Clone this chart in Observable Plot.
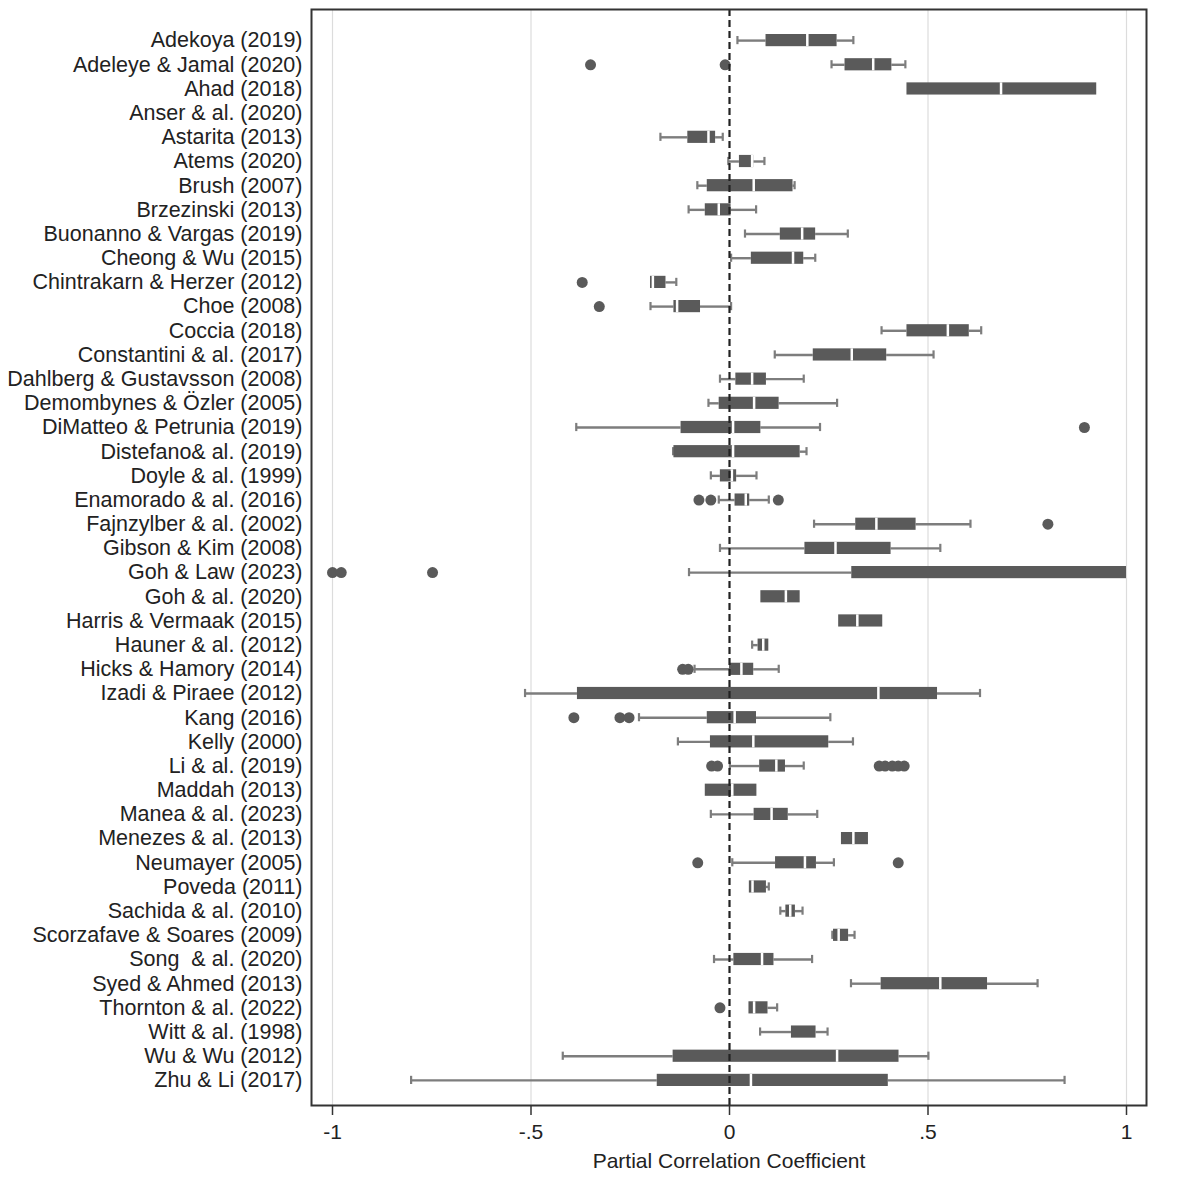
<!DOCTYPE html>
<html><head><meta charset="utf-8">
<script src="https://cdn.jsdelivr.net/npm/d3@7"></script>
<script src="https://cdn.jsdelivr.net/npm/@observablehq/plot@0.6"></script>
<style>body{margin:0;background:#fff;} #chart svg{display:block;}</style>
</head><body><div id="chart"></div>
<script>
const studies = [
  "Adekoya (2019)","Adeleye & Jamal (2020)","Ahad (2018)","Anser & al. (2020)","Astarita (2013)",
  "Atems (2020)","Brush (2007)","Brzezinski (2013)","Buonanno & Vargas (2019)","Cheong & Wu (2015)",
  "Chintrakarn & Herzer (2012)","Choe (2008)","Coccia (2018)","Constantini & al. (2017)","Dahlberg & Gustavsson (2008)",
  "Demombynes & Özler (2005)","DiMatteo & Petrunia (2019)","Distefano& al. (2019)","Doyle & al. (1999)","Enamorado & al. (2016)",
  "Fajnzylber & al. (2002)","Gibson & Kim (2008)","Goh & Law (2023)","Goh & al. (2020)","Harris & Vermaak (2015)",
  "Hauner & al. (2012)","Hicks & Hamory (2014)","Izadi & Piraee (2012)","Kang (2016)","Kelly (2000)",
  "Li & al. (2019)","Maddah (2013)","Manea & al. (2023)","Menezes & al. (2013)","Neumayer (2005)",
  "Poveda (2011)","Sachida & al. (2010)","Scorzafave & Soares (2009)","Song\u00a0 & al. (2020)","Syed & Ahmed (2013)",
  "Thornton & al. (2022)","Witt & al. (1998)","Wu & Wu (2012)","Zhu & Li (2017)"
];
// lower adjacent value (whisker end)
const lo = [0.02,0.257,0.447,null,-0.174, -0.003,-0.081,-0.103,0.039,0.004, -0.199,-0.199,0.383,0.114,-0.024,
  -0.053,-0.386,-0.142,-0.047,-0.027, 0.213,-0.024,-0.102,0.079,0.275, 0.057,-0.088,-0.515,-0.228,-0.13,
  0.001,-0.061,-0.047,0.282,0.007, 0.053,0.128,0.259,-0.039,0.306, 0.049,0.077,-0.42,-0.802];
// first quartile
const q1 = [0.092,0.291,0.447,null,-0.105, 0.025,-0.056,-0.061,0.128,0.055, -0.199,-0.14,0.447,0.211,0.016,
  -0.026,-0.122,-0.14,-0.023,0.014, 0.318,0.19,0.308,0.079,0.275, 0.072,0.0,-0.383,-0.056,-0.048,
  0.076,-0.061,0.062,0.282,0.116, 0.05,0.142,0.262,0.011,0.382, 0.049,0.156,-0.142,-0.182];
// median
const median = [0.196,0.362,0.684,null,-0.053, 0.057,0.061,-0.027,0.183,0.16, -0.193,-0.132,0.55,0.308,0.057,
  0.062,0.009,0.009,0.006,0.041, 0.37,0.267,1.0,0.142,0.322, 0.085,0.03,0.375,0.013,0.06,
  0.118,0.007,0.106,0.312,0.19, 0.058,0.153,0.275,0.082,0.531, 0.062,0.218,0.271,0.054];
// third quartile
const q3 = [0.271,0.409,0.925,null,-0.035, 0.061,0.16,0.004,0.217,0.187, -0.16,-0.073,0.604,0.396,0.093,
  0.125,0.079,0.178,0.018,0.051, 0.47,0.407,1.0,0.178,0.386, 0.099,0.061,0.524,0.068,0.25,
  0.141,0.069,0.148,0.35,0.219, 0.093,0.166,0.3,0.112,0.65, 0.097,0.218,0.427,0.4];
// upper adjacent value (whisker end)
const hi = [0.312,0.443,0.925,null,-0.017, 0.088,0.164,0.067,0.298,0.216, -0.134,0.004,0.634,0.514,0.187,
  0.271,0.228,0.194,0.068,0.099, 0.607,0.531,1.0,0.178,0.386, 0.099,0.124,0.631,0.254,0.311,
  0.187,0.069,0.221,0.35,0.263, 0.099,0.184,0.315,0.208,0.776, 0.12,0.247,0.501,0.844];
// outside values
const outlierStudy = [
  "Adeleye & Jamal (2020)","Adeleye & Jamal (2020)","Chintrakarn & Herzer (2012)","Choe (2008)",
  "DiMatteo & Petrunia (2019)","Enamorado & al. (2016)","Enamorado & al. (2016)","Enamorado & al. (2016)",
  "Fajnzylber & al. (2002)","Goh & Law (2023)","Goh & Law (2023)","Goh & Law (2023)",
  "Hicks & Hamory (2014)","Hicks & Hamory (2014)","Kang (2016)","Kang (2016)","Kang (2016)",
  "Li & al. (2019)","Li & al. (2019)","Li & al. (2019)","Li & al. (2019)","Li & al. (2019)","Li & al. (2019)","Li & al. (2019)",
  "Neumayer (2005)","Neumayer (2005)","Thornton & al. (2022)"
];
const outlierValue = [
  -0.35,-0.011,-0.371,-0.328,
  0.894,-0.077,-0.047,0.123,
  0.802,-1.0,-0.978,-0.748,
  -0.118,-0.104,-0.392,-0.276,-0.253,
  -0.045,-0.03,0.377,0.392,0.41,0.425,0.44,
  -0.08,0.425,-0.024
];
const xTicks = [-1,-0.5,0,0.5,1];
const xTickLabels = ["-1","-.5","0",".5","1"];
const xTitle = "Partial Correlation Coefficient";

const rows = studies.map((s,i)=>({study:s, lo:lo[i], q1:q1[i], med:median[i], q3:q3[i], hi:hi[i]}));
const boxes = rows.filter(d=>d.q1!=null);
const outliers = outlierStudy.map((s,i)=>({study:s, value:outlierValue[i]}));
const gridVals = xTicks.filter(v=>v!==0);

const boxFill = "#5a5a5a";
const whisk = "#7d7d7d";

const chart = Plot.plot({
  width: 1198, height: 1178,
  marginLeft: 311, marginRight: 52, marginTop: 9, marginBottom: 73,
  insetLeft: 21, insetRight: 20, insetTop: 19, insetBottom: 13,
  style: {fontFamily: "'Liberation Sans', Arial, sans-serif", color: "#222", background: "#fff"},
  x: {domain: [-1, 1]},
  y: {domain: studies, padding: 0, round: false},
  marks: [
    Plot.ruleX(gridVals, {stroke: "#dcdcdc", strokeWidth: 1.2}),
    Plot.ruleY(boxes.filter(d=>d.lo<d.q1), {y:"study", x1:"lo", x2:"q1", stroke: whisk, strokeWidth: 2.4}),
    Plot.ruleY(boxes.filter(d=>d.hi>d.q3), {y:"study", x1:"q3", x2:"hi", stroke: whisk, strokeWidth: 2.4}),
    Plot.tickX(boxes.filter(d=>d.lo<d.q1), {y:"study", x:"lo", stroke: whisk, strokeWidth: 2.2, insetTop: 8, insetBottom: 8}),
    Plot.tickX(boxes.filter(d=>d.hi>d.q3), {y:"study", x:"hi", stroke: whisk, strokeWidth: 2.2, insetTop: 8, insetBottom: 8}),
    Plot.barX(boxes, {y:"study", x1:"q1", x2:"q3", fill: boxFill, insetTop: 6, insetBottom: 6}),
    Plot.tickX(boxes.filter(d=>d.med>d.q1 && d.med<d.q3), {y:"study", x:"med", stroke: "#fff", strokeWidth: 2.5, insetTop: 6, insetBottom: 6}),
    Plot.dot(outliers, {y:"study", x:"value", r: 5.5, fill: boxFill, stroke: "none"}),
    Plot.ruleX([0], {stroke: "#222", strokeWidth: 2.2, strokeDasharray: "7,4"}),
    Plot.frame({stroke: "#333", strokeWidth: 2}),
    Plot.axisY({tickSize: 0, tickPadding: 9, fontSize: 21.5, label: null, color: "#222"}),
    Plot.axisX({ticks: xTicks, tickFormat: d => xTickLabels[xTicks.indexOf(d)], tickSize: 10, tickPadding: 9,
      fontSize: 21, stroke: "#333", strokeWidth: 1.5, label: xTitle, labelAnchor: "center", labelArrow: "none", labelOffset: 62})
  ]
});
document.getElementById("chart").append(chart);
</script>
</body></html>
